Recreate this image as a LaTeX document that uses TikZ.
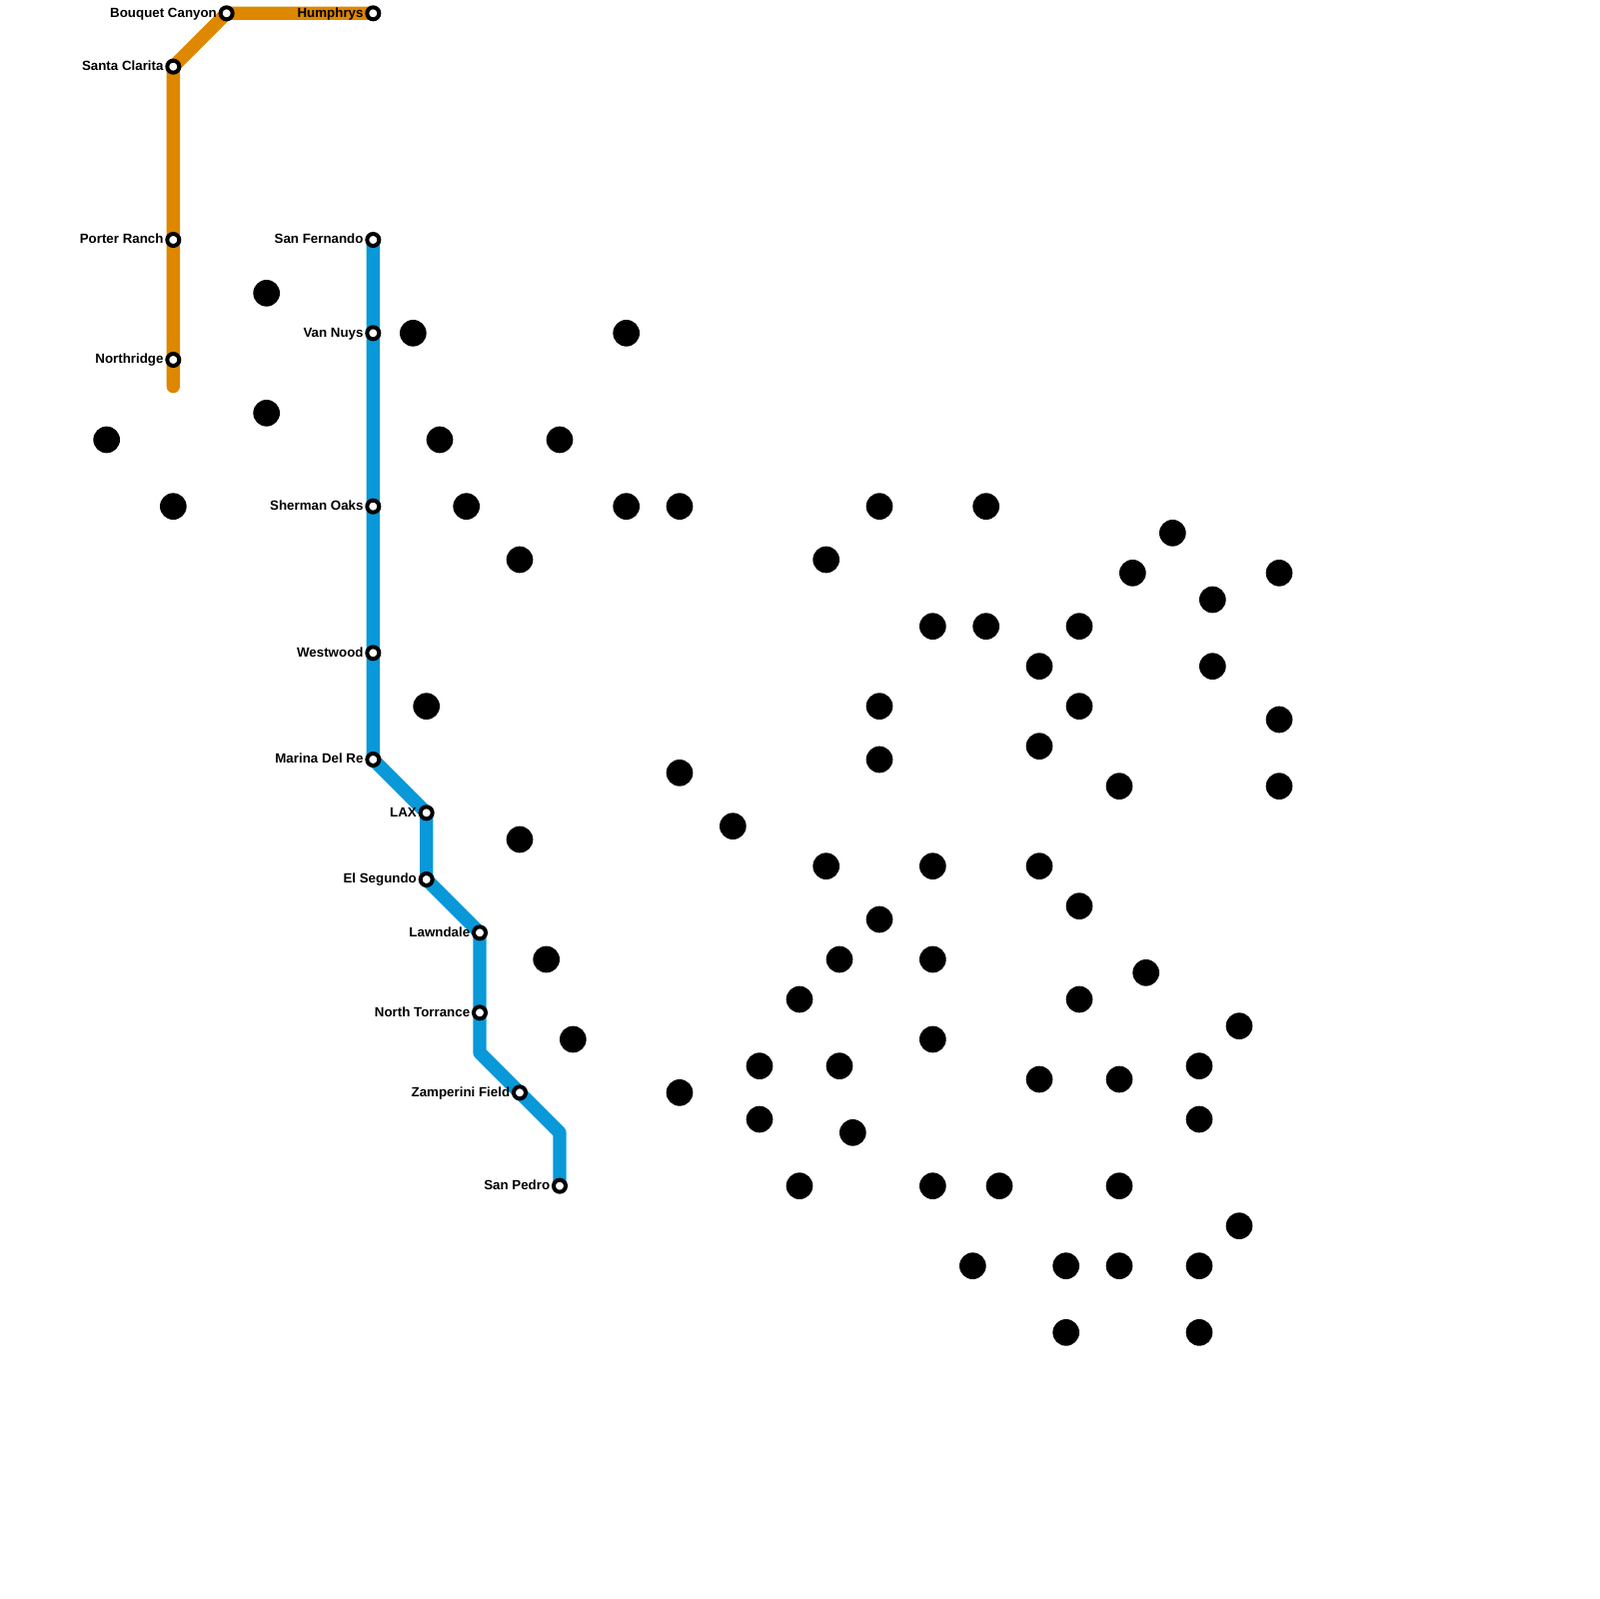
\documentclass[tikz,border=0pt]{standalone}
\usepackage{fontspec}
\setmainfont{Liberation Sans}
\usepackage{tikz}
\usetikzlibrary{positioning, backgrounds}
\definecolor{orangeline}{RGB}{222,135,0}
\definecolor{blueline}{RGB}{9,152,216}

\begin{document}
\begin{tikzpicture}[
    x=2mm, y=-2mm,
    stop/.style={circle, draw=black, line width=0.6mm, fill=white, minimum size=1.8mm, inner sep=0pt},
    stoplabel/.style={font=\fontsize{5.69}{6}\selectfont\bfseries, inner sep=0pt, text height=4.07pt, text depth=0pt, yshift=0.15mm, xshift=-0.4mm},
    blob/.style={circle, fill=black, minimum size=4mm, inner sep=0pt},
    route/.style={line width=2mm, line cap=round, line join=round}
]
    \useasboundingbox (0,0) rectangle (120,120);

    % --- Orange line
    \coordinate (OrangeEnd) at (13, 29);
    \node[stop] (Humphrys)  at (28, 1)  {};
    \node[stop] (Bouquet)   at (17, 1)  {};
    \node[stop] (Clarita)   at (13, 5)  {};
    \node[stop] (Porter)    at (13, 18) {};
    \node[stop] (Northridge) at (13, 27) {};

    % --- Blue line
    \coordinate (BendA) at (36, 79);
    \coordinate (BendB) at (42, 85);
    \node[stop] (Fernando)  at (28, 18) {};
    \node[stop] (VanNuys)   at (28, 25) {};
    \node[stop] (Sherman)   at (28, 38) {};
    \node[stop] (Westwood)  at (28, 49) {};
    \node[stop] (Marina)    at (28, 57) {};
    \node[stop] (LAX)       at (32, 61) {};
    \node[stop] (Segundo)   at (32, 66) {};
    \node[stop] (Lawndale)  at (36, 70) {};
    \node[stop] (Torrance)  at (36, 76) {};
    \node[stop] (Zamperini) at (39, 82) {};
    \node[stop] (Pedro)     at (42, 89) {};

    % --- Routes, under the stops
    \begin{scope}[on background layer]
        \draw[route, orangeline] (Humphrys.center) -- (Bouquet.center) -- (Clarita.center) -- (Porter.center) -- (Northridge.center) -- (OrangeEnd);
        \draw[route, blueline] (Fernando.center) -- (VanNuys.center) -- (Sherman.center) -- (Westwood.center) -- (Marina.center) -- (LAX.center) -- (Segundo.center) -- (Lawndale.center) -- (Torrance.center) -- (BendA) -- (Zamperini.center) -- (BendB) -- (Pedro.center);
    \end{scope}

    % --- Labels
    \node[stoplabel, left=1mm of Humphrys.center]   (LHumphrys)   {Humphrys};
    \node[stoplabel, left=1mm of Bouquet.center]    (LBouquet)    {Bouquet Canyon};
    \node[stoplabel, left=1mm of Clarita.center]    (LClarita)    {Santa Clarita};
    \node[stoplabel, left=1mm of Porter.center]     (LPorter)     {Porter Ranch};
    \node[stoplabel, left=1mm of Northridge.center] (LNorthridge) {Northridge};
    \node[stoplabel, left=1mm of Fernando.center]   (LFernando)   {San Fernando};
    \node[stoplabel, left=1mm of VanNuys.center]    (LVanNuys)    {Van Nuys};
    \node[stoplabel, left=1mm of Sherman.center]    (LSherman)    {Sherman Oaks};
    \node[stoplabel, left=1mm of Westwood.center]   (LWestwood)   {Westwood};
    \node[stoplabel, left=1mm of Marina.center]     (LMarina)     {Marina Del Re};
    \node[stoplabel, left=1mm of LAX.center]        (LLAX)        {LAX};
    \node[stoplabel, left=1mm of Segundo.center]    (LSegundo)    {El Segundo};
    \node[stoplabel, left=1mm of Lawndale.center]   (LLawndale)   {Lawndale};
    \node[stoplabel, left=1mm of Torrance.center]   (LTorrance)   {North Torrance};
    \node[stoplabel, left=1mm of Zamperini.center]  (LZamperini)  {Zamperini Field};
    \node[stoplabel, left=1mm of Pedro.center]      (LPedro)      {San Pedro};

    % --- Loose dots
    \node[blob] (D1)  at (20, 22) {};
    \node[blob] (D2)  at (31, 25) {};
    \node[blob] (D3)  at (47, 25) {};
    \node[blob] (D4)  at (20, 31) {};
    \node[blob] (D5)  at (8, 33)  {};
    \node[blob] (D6)  at (33, 33) {};
    \node[blob] (D7)  at (42, 33) {};
    \node[blob] (D8)  at (13, 38) {};
    \node[blob] (D9)  at (35, 38) {};
    \node[blob] (D10) at (47, 38) {};
    \node[blob] (D11) at (51, 38) {};
    \node[blob] (D12) at (66, 38) {};
    \node[blob] (D13) at (74, 38) {};
    \node[blob] (D14) at (88, 40) {};
    \node[blob] (D15) at (39, 42) {};
    \node[blob] (D16) at (62, 42) {};
    \node[blob] (D17) at (85, 43) {};
    \node[blob] (D18) at (96, 43) {};
    \node[blob] (D19) at (91, 45) {};
    \node[blob] (D20) at (70, 47) {};
    \node[blob] (D21) at (74, 47) {};
    \node[blob] (D22) at (81, 47) {};
    \node[blob] (D23) at (78, 50) {};
    \node[blob] (D24) at (91, 50) {};
    \node[blob] (D25) at (32, 53) {};
    \node[blob] (D26) at (66, 53) {};
    \node[blob] (D27) at (81, 53) {};
    \node[blob] (D28) at (96, 54) {};
    \node[blob] (D29) at (78, 56) {};
    \node[blob] (D30) at (66, 57) {};
    \node[blob] (D31) at (51, 58) {};
    \node[blob] (D32) at (84, 59) {};
    \node[blob] (D33) at (96, 59) {};
    \node[blob] (D34) at (55, 62) {};
    \node[blob] (D35) at (39, 63) {};
    \node[blob] (D36) at (62, 65) {};
    \node[blob] (D37) at (70, 65) {};
    \node[blob] (D38) at (78, 65) {};
    \node[blob] (D39) at (81, 68) {};
    \node[blob] (D40) at (66, 69) {};
    \node[blob] (D41) at (41, 72) {};
    \node[blob] (D42) at (63, 72) {};
    \node[blob] (D43) at (70, 72) {};
    \node[blob] (D44) at (86, 73) {};
    \node[blob] (D45) at (60, 75) {};
    \node[blob] (D46) at (81, 75) {};
    \node[blob] (D47) at (93, 77) {};
    \node[blob] (D48) at (43, 78) {};
    \node[blob] (D49) at (70, 78) {};
    \node[blob] (D50) at (57, 80) {};
    \node[blob] (D51) at (63, 80) {};
    \node[blob] (D52) at (90, 80) {};
    \node[blob] (D53) at (78, 81) {};
    \node[blob] (D54) at (84, 81) {};
    \node[blob] (D55) at (51, 82) {};
    \node[blob] (D56) at (57, 84) {};
    \node[blob] (D57) at (90, 84) {};
    \node[blob] (D58) at (64, 85) {};
    \node[blob] (D59) at (60, 89) {};
    \node[blob] (D60) at (70, 89) {};
    \node[blob] (D61) at (75, 89) {};
    \node[blob] (D62) at (84, 89) {};
    \node[blob] (D63) at (93, 92) {};
    \node[blob] (D64) at (73, 95) {};
    \node[blob] (D65) at (80, 95) {};
    \node[blob] (D66) at (84, 95) {};
    \node[blob] (D67) at (90, 95) {};
    \node[blob] (D68) at (80, 100) {};
    \node[blob] (D69) at (90, 100) {};

\end{tikzpicture}
\end{document}
